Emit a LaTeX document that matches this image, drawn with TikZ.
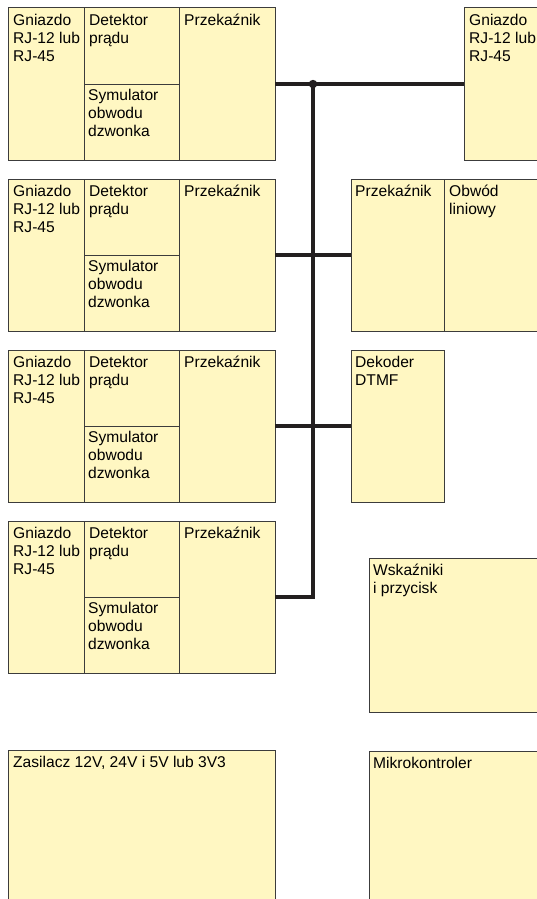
\documentclass[tikz,border=0pt]{standalone}
\usepackage{fontspec}
\setmainfont{Liberation Sans}
\definecolor{boxfill}{HTML}{FFF7C2}
\definecolor{boxline}{HTML}{3C3C3C}
\definecolor{busline}{HTML}{231F20}
\newcommand{\fstrut}{\rule{0pt}{15pt}}
\begin{document}
\begin{tikzpicture}[x=1pt,y=-1pt,
  box/.style={rectangle, draw=boxline, fill=boxfill, line width=1pt, inner sep=0pt, outer sep=0pt, anchor=north west},
  lbl/.style={anchor=north west, inner sep=0pt, align=left, font=\fontsize{15.6}{18}\selectfont},
  bus/.style={draw=busline, line width=3.2pt}]
\useasboundingbox (0,0) rectangle (537,899);
\clip (0,0) rectangle (537,899);
% four line modules on the left
\foreach \i/\t in {1/8,2/179,3/350,4/521}{
  \node[box, minimum width=76, minimum height=152] (g\i) at (8,\t) {};
  \node[box, minimum width=95, minimum height=76] (d\i) at (84,\t) {};
  \node[box, minimum width=95, minimum height=76] (s\i) at (84,\t+76) {};
  \node[box, minimum width=96, minimum height=152] (p\i) at (179,\t) {};
  \node[lbl] (tg\i) at ([shift={(5,2)}]g\i.north west) {\fstrut Gniazdo\\RJ-12 lub\\RJ-45};
  \node[lbl] (td\i) at ([shift={(5,2)}]d\i.north west) {\fstrut Detektor\\prądu};
  \node[lbl] (ts\i) at ([shift={(4,1)}]s\i.north west) {\fstrut Symulator\\obwodu\\dzwonka};
  \node[lbl] (tp\i) at ([shift={(5,2)}]p\i.north west) {\fstrut Przekaźnik};
}
% right column
\node[box, minimum width=100, minimum height=152] (rg) at (464,8) {};
\node[lbl] (trg) at ([shift={(5,2)}]rg.north west) {\fstrut Gniazdo\\RJ-12 lub\\RJ-45};
\node[box, minimum width=93, minimum height=152] (rp) at (351,179) {};
\node[box, minimum width=100, minimum height=152] (ro) at (444,179) {};
\node[lbl] (trp) at ([shift={(4,2)}]rp.north west) {\fstrut Przekaźnik};
\node[lbl] (tro) at ([shift={(5,2)}]ro.north west) {\fstrut Obwód\\liniowy};
\node[box, minimum width=93, minimum height=152] (dek) at (351,350) {};
\node[lbl] (tdek) at ([shift={(4,2)}]dek.north west) {\fstrut Dekoder\\DTMF};
\node[box, minimum width=180, minimum height=154] (wsk) at (369,558) {};
\node[lbl] (twsk) at ([shift={(4,2)}]wsk.north west) {\fstrut Wskaźniki\\i przycisk};
\node[box, minimum width=180, minimum height=160] (mik) at (369,751) {};
\node[lbl] (tmik) at ([shift={(4,2)}]mik.north west) {\fstrut Mikrokontroler};
\node[box, minimum width=267, minimum height=160] (zas) at (8,750) {};
\node[lbl] (tzas) at ([shift={(5,2)}]zas.north west) {\fstrut Zasilacz 12V, 24V i 5V lub 3V3};
% bus
\coordinate (busx) at (313,0);
\coordinate (j) at (p1.east -| busx);
\coordinate (k) at (p4.east -| busx);
\draw[bus] (p1.east) -- (rg.west);
\draw[bus] (p2.east) -- (rp.west);
\draw[bus] (p3.east) -- (dek.west);
\draw[bus] (p4.east) -- (k) -- (j);
\fill[busline] (j) circle (4.2);
\end{tikzpicture}
\end{document}
